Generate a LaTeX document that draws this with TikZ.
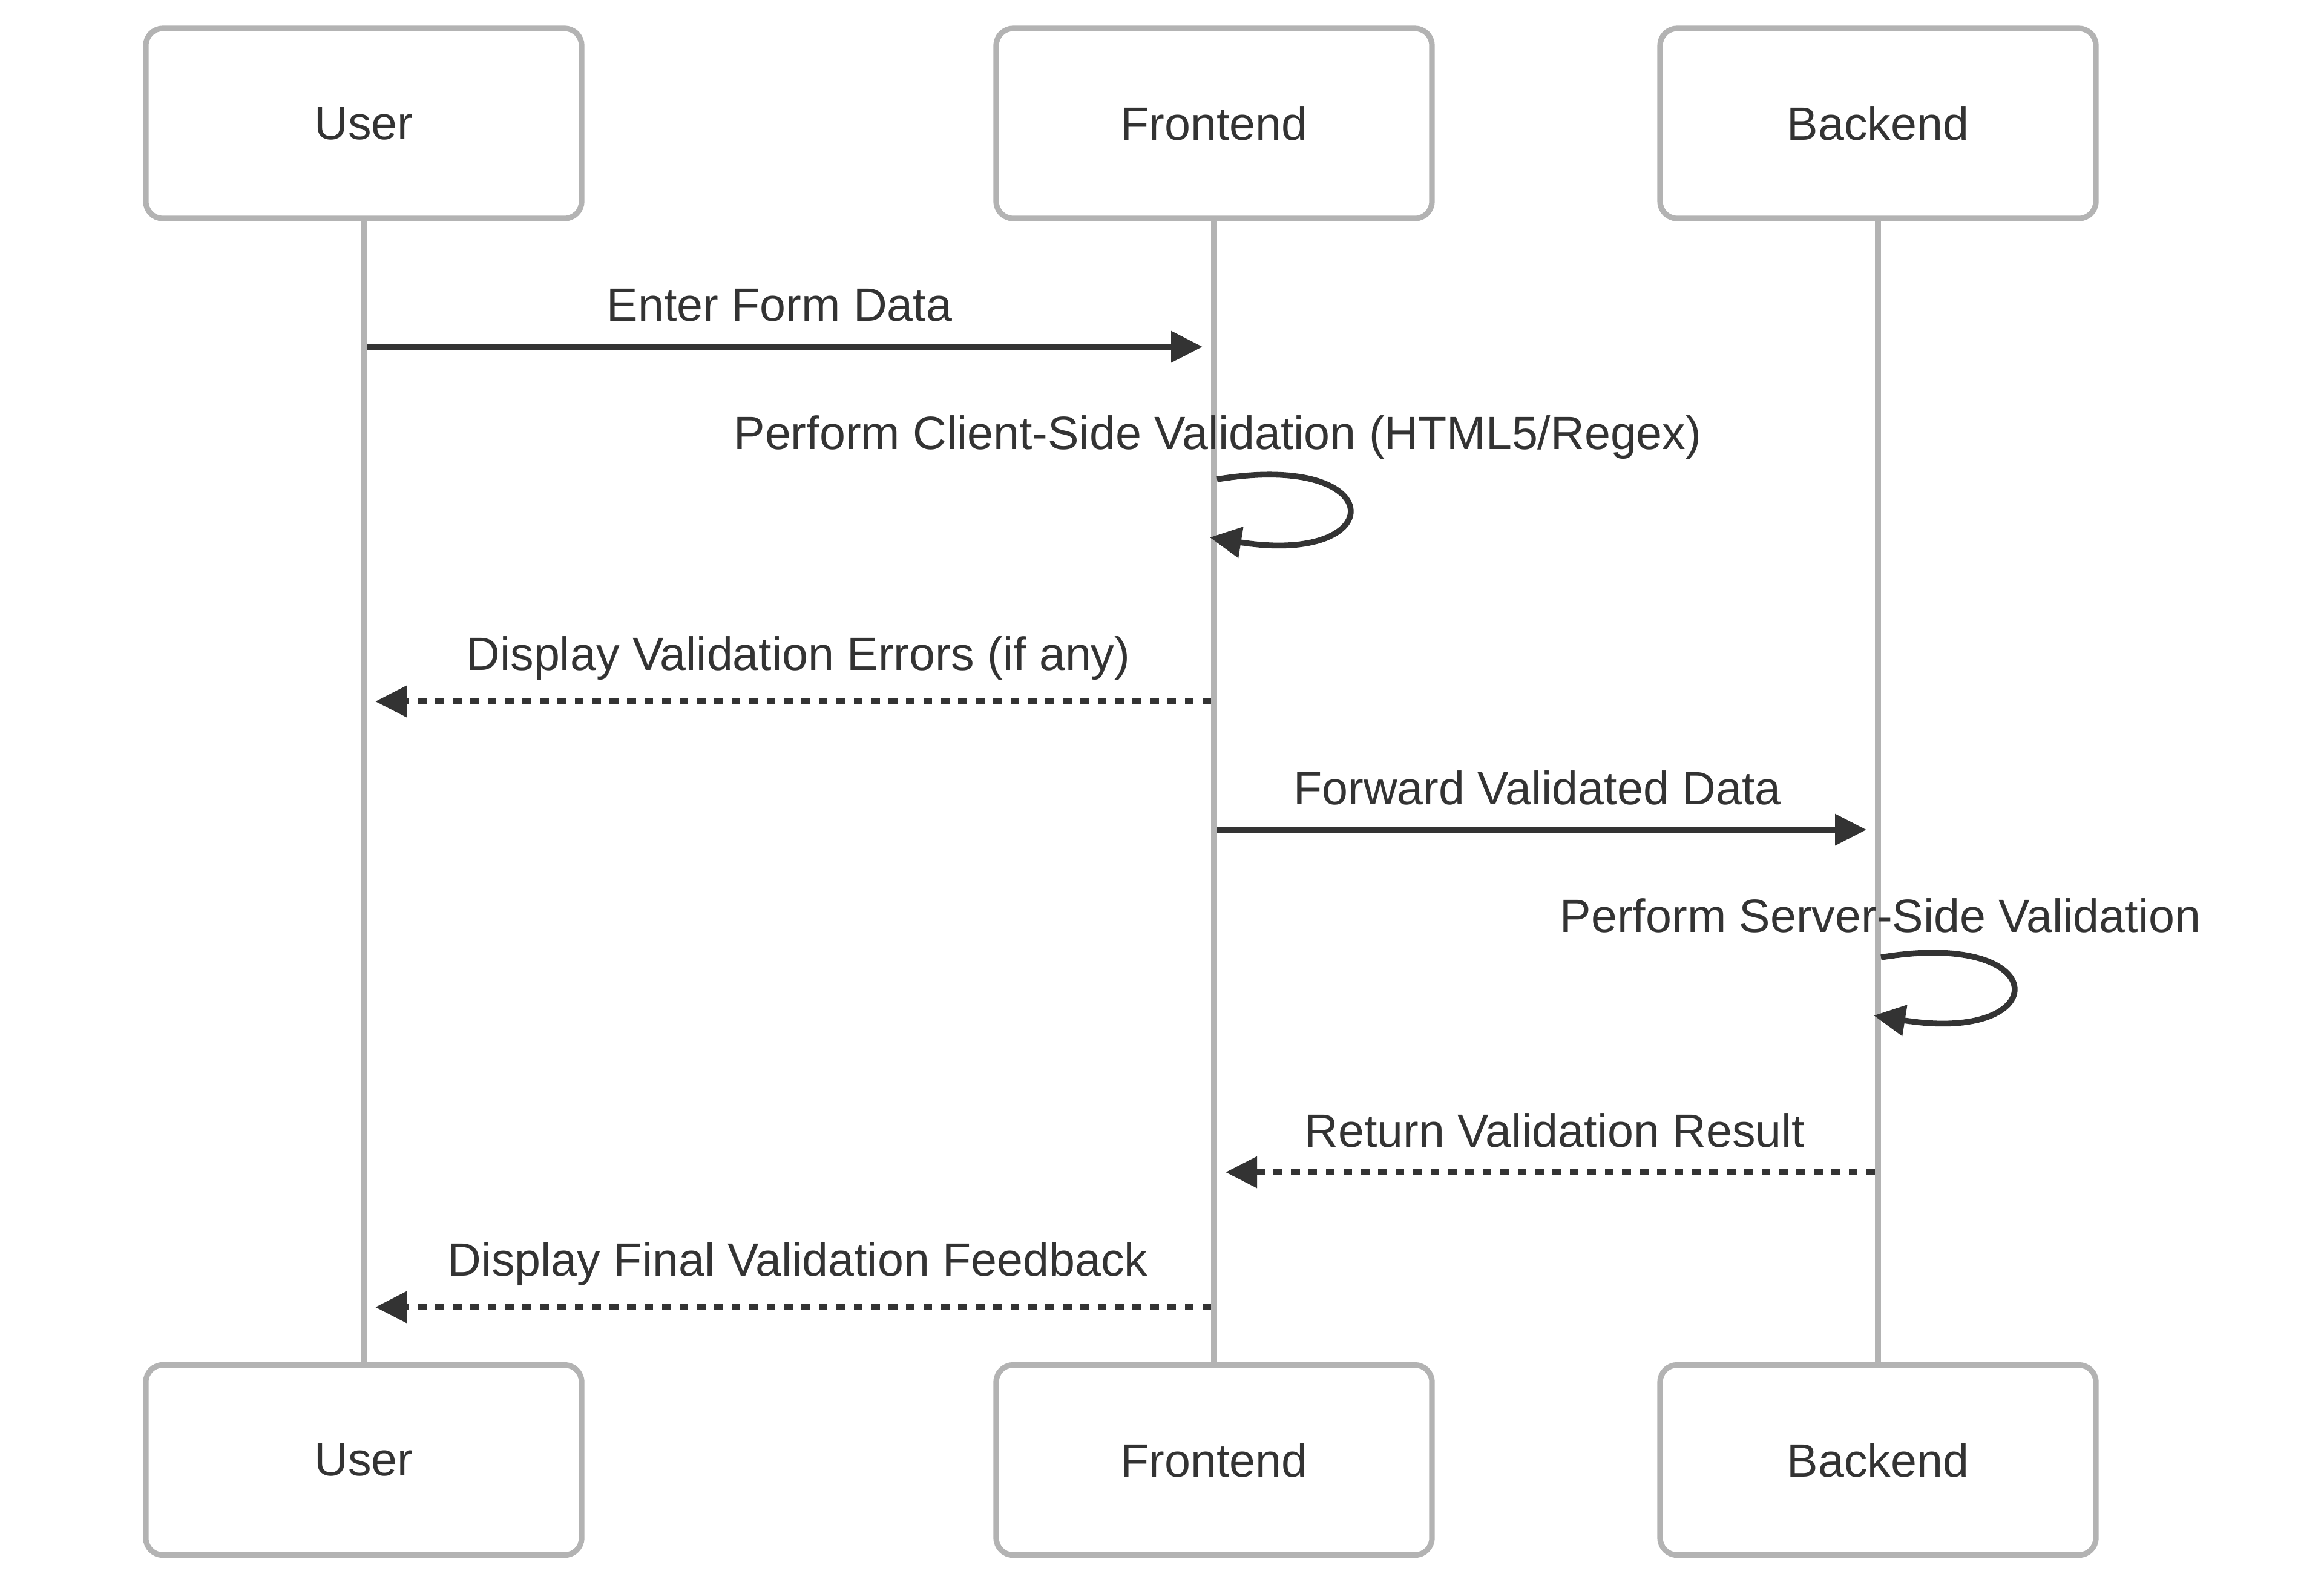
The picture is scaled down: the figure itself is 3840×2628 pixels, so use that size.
\documentclass[tikz,border=0pt]{standalone}
\usepackage{fontspec}
\setmainfont{Liberation Sans}
\usetikzlibrary{arrows.meta}
\definecolor{boxgray}{RGB}{179,179,179}
\definecolor{ink}{RGB}{51,51,51}
\begin{document}
\begin{tikzpicture}[x=0.25pt,y=-0.25pt,
  actor/.style={draw=boxgray, line width=2.3pt, fill=white, rounded corners=7pt,
    minimum width=180pt, minimum height=78.5pt, inner sep=0pt, outer sep=0pt,
    text=ink, font=\fontsize{19.3}{23}\selectfont},
  lifeline/.style={draw=boxgray, line width=2.3pt},
  msg/.style={draw=ink, line width=2.4pt, -{Triangle[length=13pt,width=12.5pt]}},
  reply/.style={msg, dash pattern=on 3.6pt off 3.6pt},
  lbl/.style={text=ink, font=\fontsize{19.3}{23}\selectfont, anchor=base, inner sep=0pt}
]
\useasboundingbox (0,0) rectangle (3840,2628);
\fill[white] (0,0) rectangle (3840,2628);

% lifelines (drawn first, boxes on top)
\coordinate (uT) at (601,361);
\coordinate (uB) at (601,2256);
\coordinate (fT) at (2006,361);
\coordinate (fB) at (2006,2256);
\coordinate (bT) at (3103,361);
\coordinate (bB) at (3103,2256);
\draw[lifeline] (uT) -- (uB);
\draw[lifeline] (fT) -- (fB);
\draw[lifeline] (bT) -- (bB);

% actor boxes
\node[actor] (userTop) at (601,204) {User};
\node[actor] (frontTop) at (2006,204) {Frontend};
\node[actor] (backTop) at (3103,204) {Backend};
\node[actor] (userBot) at (601,2412.5) {User};
\node[actor] (frontBot) at (2006,2412.5) {Frontend};
\node[actor] (backBot) at (3103,2412.5) {Backend};

% message 1
\coordinate (m1s) at (606,573);
\coordinate (m1e) at (1987,573);
\draw[msg] (m1s) -- (m1e);
\node[lbl] (l1) at (1288,530) {Enter Form Data};

% self message 2 (frontend)
\coordinate (m2s) at (2011,792);
\coordinate (m2e) at (1999,888);
\draw[msg] (m2s) .. controls (2299,744) and (2299,936) .. (m2e);
\node[lbl] (l2) at (2012,742) {Perform Client-Side Validation (HTML5/Regex)};

% message 3
\coordinate (m3s) at (2001,1159);
\coordinate (m3e) at (620,1159);
\draw[reply] (m3s) -- (m3e);
\node[lbl] (l3) at (1319,1107) {Display Validation Errors (if any)};

% message 4
\coordinate (m4s) at (2011,1371);
\coordinate (m4e) at (3084,1371);
\draw[msg] (m4s) -- (m4e);
\node[lbl] (l4) at (2540,1329) {Forward Validated Data};

% self message 5 (backend)
\coordinate (m5s) at (3108,1582);
\coordinate (m5e) at (3096,1678);
\draw[msg] (m5s) .. controls (3396,1534) and (3396,1726) .. (m5e);
\node[lbl] (l5) at (3107,1540) {Perform Server-Side Validation};

% message 6
\coordinate (m6s) at (3098,1937);
\coordinate (m6e) at (2025,1937);
\draw[reply] (m6s) -- (m6e);
\node[lbl] (l6) at (2569,1895) {Return Validation Result};

% message 7
\coordinate (m7s) at (2001,2160);
\coordinate (m7e) at (620,2160);
\draw[reply] (m7s) -- (m7e);
\node[lbl] (l7) at (1318,2108) {Display Final Validation Feedback};
\end{tikzpicture}
\end{document}
